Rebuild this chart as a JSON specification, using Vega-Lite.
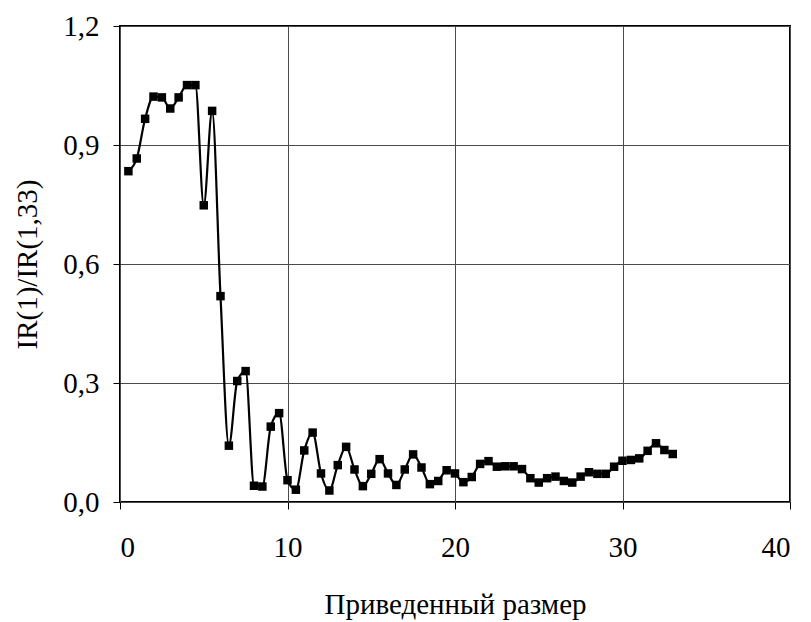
{
  "$schema": "https://vega.github.io/schema/vega-lite/v6.json",
  "width": 670,
  "height": 476,
  "autosize": {"type": "none"},
  "padding": {"left": 120, "top": 26, "right": 21, "bottom": 120},
  "background": "white",
  "config": {
    "view": {"stroke": "black", "strokeWidth": 2},
    "font": "Liberation Serif",
    "axis": {
      "labelFont": "Liberation Serif",
      "titleFont": "Liberation Serif",
      "labelFontSize": 29,
      "titleFontSize": 29,
      "titleFontWeight": "normal",
      "labelColor": "black",
      "titleColor": "black",
      "gridColor": "#4a4a4a",
      "gridWidth": 1,
      "gridOpacity": 1,
      "tickColor": "black",
      "tickSize": 7,
      "domain": false
    }
  },
  "data": {
    "values": [
      {"x": 0.5, "y": 0.834}, {"x": 1.0, "y": 0.866}, {"x": 1.5, "y": 0.966}, {"x": 2.0, "y": 1.022},
      {"x": 2.5, "y": 1.02}, {"x": 3.0, "y": 0.992}, {"x": 3.5, "y": 1.02}, {"x": 4.0, "y": 1.051},
      {"x": 4.5, "y": 1.051}, {"x": 5.0, "y": 0.748}, {"x": 5.5, "y": 0.986}, {"x": 6.0, "y": 0.519},
      {"x": 6.5, "y": 0.142}, {"x": 7.0, "y": 0.305}, {"x": 7.5, "y": 0.33}, {"x": 8.0, "y": 0.041},
      {"x": 8.5, "y": 0.039}, {"x": 9.0, "y": 0.19}, {"x": 9.5, "y": 0.224}, {"x": 10.0, "y": 0.055},
      {"x": 10.5, "y": 0.031}, {"x": 11.0, "y": 0.13}, {"x": 11.5, "y": 0.175}, {"x": 12.0, "y": 0.072},
      {"x": 12.5, "y": 0.029}, {"x": 13.0, "y": 0.093}, {"x": 13.5, "y": 0.139}, {"x": 14.0, "y": 0.082},
      {"x": 14.5, "y": 0.04}, {"x": 15.0, "y": 0.071}, {"x": 15.5, "y": 0.108}, {"x": 16.0, "y": 0.072},
      {"x": 16.5, "y": 0.043}, {"x": 17.0, "y": 0.082}, {"x": 17.5, "y": 0.12}, {"x": 18.0, "y": 0.087},
      {"x": 18.5, "y": 0.045}, {"x": 19.0, "y": 0.053}, {"x": 19.5, "y": 0.08}, {"x": 20.0, "y": 0.072},
      {"x": 20.5, "y": 0.05}, {"x": 21.0, "y": 0.063}, {"x": 21.5, "y": 0.096}, {"x": 22.0, "y": 0.103},
      {"x": 22.5, "y": 0.089}, {"x": 23.0, "y": 0.09}, {"x": 23.5, "y": 0.09}, {"x": 24.0, "y": 0.083},
      {"x": 24.5, "y": 0.06}, {"x": 25.0, "y": 0.049}, {"x": 25.5, "y": 0.06}, {"x": 26.0, "y": 0.064},
      {"x": 26.5, "y": 0.053}, {"x": 27.0, "y": 0.049}, {"x": 27.5, "y": 0.064}, {"x": 28.0, "y": 0.075},
      {"x": 28.5, "y": 0.071}, {"x": 29.0, "y": 0.071}, {"x": 29.5, "y": 0.089}, {"x": 30.0, "y": 0.104},
      {"x": 30.5, "y": 0.106}, {"x": 31.0, "y": 0.11}, {"x": 31.5, "y": 0.129}, {"x": 32.0, "y": 0.148},
      {"x": 32.5, "y": 0.131}, {"x": 33.0, "y": 0.121}
    ]
  },
  "encoding": {
    "x": {
      "field": "x",
      "type": "quantitative",
      "scale": {"domain": [0, 40], "nice": false, "zero": false},
      "axis": {
        "values": [0, 10, 20, 30, 40],
        "title": "Приведенный размер",
        "labelPadding": 24,
        "titlePadding": 28,
        "grid": true
      }
    },
    "y": {
      "field": "y",
      "type": "quantitative",
      "scale": {"domain": [0, 1.2], "nice": false},
      "axis": {
        "values": [0, 0.3, 0.6, 0.9, 1.2],
        "labelExpr": "replace(format(datum.value, '.1f'), '.', ',')",
        "title": "IR(1)/IR(1,33)",
        "labelPadding": 14,
        "titlePadding": 20,
        "grid": true
      }
    }
  },
  "layer": [
    {
      "mark": {"type": "line", "color": "black", "strokeWidth": 2.2, "interpolate": "monotone"}
    },
    {
      "mark": {"type": "square", "color": "black", "opacity": 1, "size": 72, "filled": true}
    }
  ]
}
